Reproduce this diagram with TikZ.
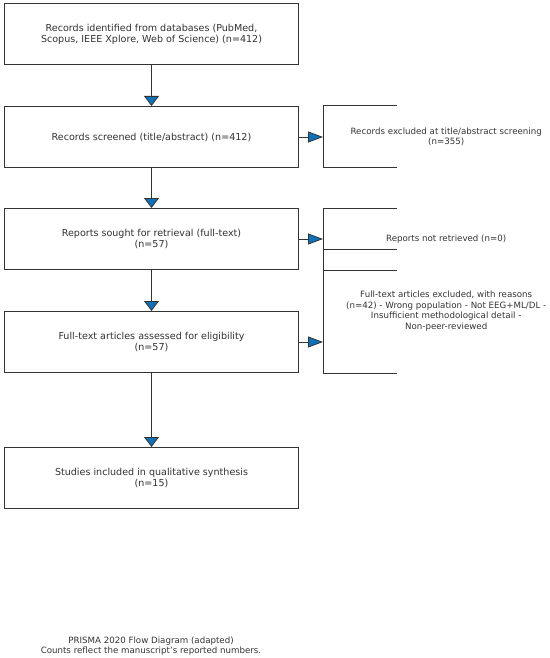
\documentclass[tikz,border=0pt]{standalone}
\usepackage{fontspec}
\setmainfont{DejaVu Sans}
\usetikzlibrary{arrows.meta}
\definecolor{pblue}{HTML}{1071B8}
\definecolor{ink}{HTML}{333333}
\begin{document}
\begin{tikzpicture}[x=1bp,y=-1bp,
  mainbox/.style={draw=ink, line width=1bp, fill=white, minimum width=294bp, minimum height=61bp,
    inner sep=0pt, align=center, text=ink, font=\fontsize{9.6}{11}\selectfont, anchor=north west},
  sidebox/.style={minimum width=246bp, inner sep=0pt, align=center, text=ink,
    font=\fontsize{8.7}{10.8}\selectfont, anchor=north west},
  frame/.style={draw=ink, line width=1bp},
  varr/.style={draw=ink, line width=1bp, -{Triangle[length=10bp,width=15bp,fill=pblue,line width=0.8bp]}},
  harr/.style={draw=ink, line width=1bp, -{Triangle[length=15bp,width=11bp,fill=pblue,line width=0.8bp]}},
  foot/.style={align=center, text=ink, font=\fontsize{8.7}{10.5}\selectfont}
]
\useasboundingbox (0,0) rectangle (550,658);

\node[mainbox] (b1) at (4,3) {Records identified from databases (PubMed,\\Scopus, IEEE Xplore, Web of Science) (n=412)};
\node[mainbox] (b2) at (4,106) {Records screened (title/abstract) (n=412)};
\node[mainbox] (b3) at (4,208) {Reports sought for retrieval (full-text)\\(n=57)};
\node[mainbox] (b4) at (4,311) {Full-text articles assessed for eligibility\\(n=57)};
\node[mainbox] (b5) at (4,447) {Studies included in qualitative synthesis\\(n=15)};

% side boxes (open on the right)
\node[sidebox, minimum height=61bp] (r1) at (323,106) {Records excluded at title/abstract screening\\(n=355)};
\node[sidebox, minimum height=62bp] (r2) at (323,208) {Reports not retrieved (n=0)};
\node[sidebox, minimum height=124bp] (r3) at (323,249) {Full-text articles excluded, with reasons\\(n=42) - Wrong population - Not EEG+ML/DL -\\Insufficient methodological detail -\\Non-peer-reviewed};

\draw[frame] (397,106) -- (323,106) -- (323,167) -- (397,167);
\draw[frame] (397,208) -- (323,208) -- (323,270) -- (397,270);
\draw[frame] (397,249) -- (323,249) -- (323,373) -- (397,373);

\draw[varr] (b1.south) -- (b2.north);
\draw[varr] (b2.south) -- (b3.north);
\draw[varr] (b3.south) -- (b4.north);
\draw[varr] (b4.south) -- (b5.north);

\draw[harr] (b2.east) -- (b2.east -| r1.west);
\draw[harr] (b3.east) -- (b3.east -| r2.west);
\draw[harr] (b4.east) -- (b4.east -| r3.west);

\node[foot] (ft) at (151,646) {PRISMA 2020 Flow Diagram (adapted)\\Counts reflect the manuscript's reported numbers.};
\end{tikzpicture}
\end{document}
